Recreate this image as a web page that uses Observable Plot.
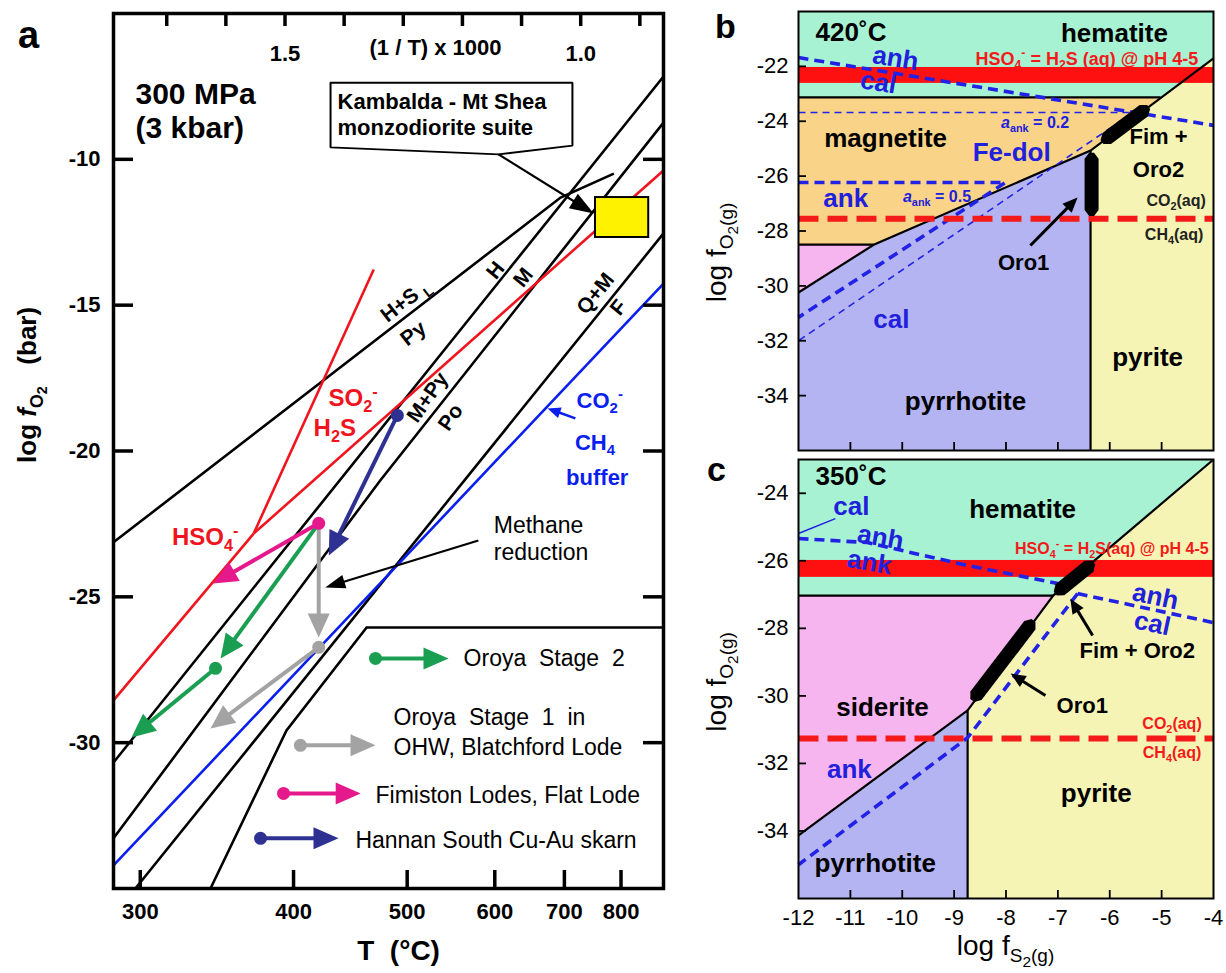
<!DOCTYPE html>
<html><head><meta charset="utf-8">
<script src="https://cdn.jsdelivr.net/npm/d3@7"></script>
<script src="https://cdn.jsdelivr.net/npm/@observablehq/plot@0.6"></script>
<style>
html,body{margin:0;padding:0;background:#fff}
#wrap{position:relative;width:1226px;height:973px;overflow:hidden;background:#fff}
#wrap svg{position:absolute;overflow:visible}
</style></head>
<body><div id="wrap"></div>
<script>
const FONT = '"Liberation Sans", Arial, Helvetica, sans-serif';

// ================= Panel a data (x = 1000/T [K^-1], y = log fO2) =================
const aTempTicks = [300, 400, 500, 600, 700, 800];
const aInvTicks = [0.9, 1.0, 1.1, 1.2, 1.3, 1.4, 1.5, 1.6, 1.7];
const aInvLabels = [1.5, 1.0];
const aYTicks = [-10, -15, -20, -25, -30];

const aHSPy = [[1.79,-23.13],[1.034,-11.31],[0.944,-10.49]];
const aHM = [[1.79,-30.68],[0.86,-7.16]];
const aMPyPo = [[1.79,-33.28],[1.339,-21.01],[0.86,-8.74]];
const aQFM = [[1.753,-35],[0.86,-12.54]];
const aLegendEdge = [[1.626,-35],[1.4975,-29.58],[1.362,-26.05],[0.86,-26.05]];
const aCO2CH4 = [[1.79,-34.21],[0.86,-14.26]];
const aHSO4steep = [[1.553,-22.83],[1.350,-13.78]];
const aSO2H2S = [[1.553,-22.83],[0.86,-10.38]];
const aHSO4low = [[1.79,-28.55],[1.553,-22.83]];
const aKambaldaField = [{x1:0.975, x2:0.885, y1:-12.68, y2:-11.31}];
const aKambaldaCallout = [[1.423,-7.37],[1.014,-7.37],[1.014,-9.53],[1.139,-9.83],[1.423,-9.59]];

const trajColors = {oroya2:"#1a9f52", oroya1:"#a3a3a3", fimiston:"#e5198c", hannan:"#2e3192"};
const trajSegments = [
  ["oroya2", 1.443,-22.48, 1.609,-27.11],
  ["oroya2", 1.6175,-27.45, 1.7596,-29.82],
  ["oroya1", 1.443,-22.48, 1.443,-26.39],
  ["oroya1", 1.443,-26.73, 1.626,-29.51],
  ["fimiston", 1.443,-22.48, 1.621,-24.54],
  ["hannan", 1.310,-18.78, 1.426,-23.58]
];
const trajPoints = [["oroya2",1.6175,-27.45],["oroya1",1.443,-26.73],["fimiston",1.443,-22.48],["hannan",1.310,-18.78]];
const legendKeys = ["oroya2","oroya1","fimiston","hannan"];
const legendText = {
  oroya2:["Oroya\u00a0 Stage\u00a0 2"],
  oroya1:["Oroya\u00a0 Stage\u00a0 1\u00a0 in","OHW, Blatchford Lode"],
  fimiston:["Fimiston Lodes, Flat Lode"],
  hannan:["Hannan South Cu-Au skarn"]
};
const legendLayout = {
  oroya2:{x0:1.347, x1:1.2235, y:-27.11, tx:1.198, ty:[-27.11]},
  oroya1:{x0:1.474, x1:1.347, y:-30.09, tx:1.3165, ty:[-29.13,-30.16]},
  fimiston:{x0:1.5025, x1:1.372, y:-31.74, tx:1.347, ty:[-31.81]},
  hannan:{x0:1.5414, x1:1.4095, y:-33.28, tx:1.381, ty:[-33.35]}
};

// ================= Panel b / c data (x = log fS2, y = log fO2) =================
const bcXTicks = [-12,-11,-10,-9,-8,-7,-6,-5,-4];
const bcInnerX = [-11,-10,-9,-8,-7,-6,-5];
const bYTicks = [-22,-24,-26,-28,-30,-32,-34];
const cYTicks = [-24,-26,-28,-30,-32,-34];

const colHem="#a6f2d2", colMag="#f9d488", colSid="#f6b5ee", colPo="#b4b4f2", colPy="#f6f4b4";
const RED="#f41a1a", BLUE="#2222e6";

// 420 C
const bHem = [[-12,-20],[-4,-20],[-4,-21.71],[-5.02,-23.13],[-12,-23.13]];
const bMag = [[-12,-23.13],[-5.02,-23.13],[-6.37,-25.07],[-10.55,-28.5],[-12,-28.5]];
const bSid = [[-12,-28.5],[-10.55,-28.5],[-12,-30.24]];
const bPo  = [[-12,-30.24],[-10.55,-28.5],[-6.37,-25.07],[-6.37,-36],[-12,-36]];
const bPy  = [[-6.37,-25.07],[-4,-21.71],[-4,-36],[-6.37,-36]];
const bBoundaries = [
  [[-12,-23.13],[-5.02,-23.13]],
  [[-4,-21.71],[-6.37,-25.07],[-10.55,-28.5],[-12,-30.24]],
  [[-12,-28.5],[-10.55,-28.5]],
  [[-6.37,-25.07],[-6.37,-36]]
];
const bSulfateBand = [{y1:-22.62, y2:-22.04}];
const bCH4 = -27.55;
const bAnhCal = [[-12,-21.68],[-4,-24.15]];
const bAnk05 = [[-12,-26.23],[-8.01,-26.23],[-12,-31.15]];
const bAnk02 = [[-12,-23.68],[-5.55,-23.68],[-12,-32.0]];
const bFimOro2 = [[-6.15,-24.76],[-5.25,-23.48]];
const bOro1 = [[-6.35,-25.15],[-6.35,-27.45]];

// 350 C
const cHem = [[-12,-23],[-4,-23],[-7.09,-27.03],[-12,-27.03]];
const cSid = [[-12,-27.03],[-7.09,-27.03],[-8.74,-30.43],[-12,-34.13]];
const cPo  = [[-12,-34.13],[-8.74,-30.43],[-8.74,-36],[-12,-36]];
const cPy  = [[-4,-23],[-4,-36],[-8.74,-36],[-8.74,-30.43],[-7.09,-27.03]];
const cBoundaries = [
  [[-12,-27.03],[-7.09,-27.03]],
  [[-4,-23],[-7.09,-27.03],[-8.74,-30.43]],
  [[-12,-34.13],[-8.74,-30.43],[-8.74,-36]]
];
const cSulfateBand = [{y1:-26.49, y2:-25.99}];
const cCH4 = -31.26;
const cAnhAnk = [[-12,-25.34],[-10.67,-25.46],[-8.74,-26.14],[-7.0,-26.67]];
const cAnhCal = [[-6.62,-26.97],[-4,-27.83]];
const cAnk = [[-6.62,-26.97],[-8.74,-31.24],[-12,-35.0]];
const cCalLeader = [[-12,-25.19],[-11.29,-24.75]];
const cFimOro2 = [[-7.05,-26.97],[-6.31,-26.05]];
const cOro1 = [[-8.65,-30.14],[-7.47,-27.77]];

// ================= helpers =================
const wrap = document.getElementById("wrap");
function place(svg, left, top){ svg.style.left = left+"px"; svg.style.top = top+"px"; wrap.appendChild(svg); }
const PX = d => d[0], PY = d => d[1];
function ln(pts, stroke, sw, extra={}) {
  return Plot.line(pts, {x:PX, y:PY, stroke, strokeWidth:sw, strokeLinecap:"butt", strokeLinejoin:"miter", strokeMiterlimit:4, ...extra});
}
function poly(pts, fill, extra={}) {
  return Plot.line([...pts, pts[0]], {x:PX, y:PY, fill, stroke:"none", strokeLinejoin:"miter", ...extra});
}
function arrow(sx, sy, x0,y0,x1,y1, color, sw, len, wid) {
  const X0=sx.apply(x0), Y0=sy.apply(y0), X1=sx.apply(x1), Y1=sy.apply(y1);
  const dx=X1-X0, dy=Y1-Y0, L=Math.hypot(dx,dy), ux=dx/L, uy=dy/L;
  const bx=X1-ux*len, by=Y1-uy*len;
  const inv=(X,Y)=>[sx.invert(X), sy.invert(Y)];
  const head=[inv(X1,Y1), inv(bx-uy*wid/2, by+ux*wid/2), inv(bx+uy*wid/2, by-ux*wid/2)];
  return [ln([[x0,y0], inv(bx+ux*3, by+uy*3)], color, sw), poly(head, color)];
}
function bar(sx, sy, seg, wid, taper, tipFrac) {
  const [[x0,y0],[x1,y1]] = seg;
  const X0=sx.apply(x0), Y0=sy.apply(y0), X1=sx.apply(x1), Y1=sy.apply(y1);
  const dx=X1-X0, dy=Y1-Y0, L=Math.hypot(dx,dy), ux=dx/L, uy=dy/L, nx=-uy, ny=ux;
  const h=wid/2, t=h*tipFrac;
  const P=[[X0+nx*t,Y0+ny*t],[X0+ux*taper+nx*h,Y0+uy*taper+ny*h],[X1-ux*taper+nx*h,Y1-uy*taper+ny*h],[X1+nx*t,Y1+ny*t],
           [X1-nx*t,Y1-ny*t],[X1-ux*taper-nx*h,Y1-uy*taper-ny*h],[X0+ux*taper-nx*h,Y0+uy*taper-ny*h],[X0-nx*t,Y0-ny*t]];
  return poly(P.map(([X,Y])=>[sx.invert(X), sy.invert(Y)]), "black");
}
function rich(svg, X, Y, parts, o) {
  const size=o.size;
  const t=d3.select(svg).append("text")
    .attr("transform", `translate(${X},${Y})` + (o.rotate ? ` rotate(${o.rotate})` : ""))
    .attr("text-anchor", o.anchor || "middle")
    .attr("font-family", FONT).attr("font-size", size)
    .attr("font-weight", o.weight || "bold").attr("fill", o.fill || "black");
  const base = o.center === false ? 0 : 0.35*size;
  let cur=0;
  for (const p of parts) {
    const [s,m] = Array.isArray(p) ? p : [p,""];
    let off=base, fs=size, st="normal";
    if (m==="sub") { off+=0.25*size; fs=0.68*size; }
    if (m==="sub2") { off+=0.42*size; fs=0.55*size; }
    if (m==="sup") { off-=0.40*size; fs=0.68*size; }
    if (m==="i") st="italic";
    t.append("tspan").attr("dy", off-cur).attr("font-size", fs).attr("font-style", st).text(s);
    cur=off;
  }
}
const txt = (data, o) => Plot.text(data, {x:"x", y:"y", text:"t", ...o});

// ================= Panel a =================
const A = {w:680, h:973, ml:113, mr:17, mt:13, mb:85, xd:[1.79,0.86], yd:[-35,-5]};
const sxA = Plot.scale({x:{type:"linear", domain:A.xd, range:[A.ml, A.w-A.mr]}});
const syA = Plot.scale({y:{type:"linear", domain:A.yd, range:[A.h-A.mb, A.mt]}});
const fwA = A.w-A.ml-A.mr, fhA = A.h-A.mt-A.mb;
const invT = t => 1000/(t+273.15);

const marksA = [
  ...[aHSPy, aHM, aMPyPo, aQFM, aLegendEdge].map(p => ln(p, "black", 2.6)),
  ln(aCO2CH4, "#0a1ef0", 2.6),
  ...[aHSO4steep, aSO2H2S, aHSO4low].map(p => ln(p, "#f0141e", 2.6)),
  poly(aKambaldaCallout, "white", {stroke:"black", strokeWidth:2}),
  Plot.rect(aKambaldaField, {x1:"x1", x2:"x2", y1:"y1", y2:"y2", fill:"#fff200", stroke:"black", strokeWidth:2}),
  ...arrow(sxA, syA, 1.139,-9.83, 0.978,-11.86, "black", 2.2, 24, 17),
  ...arrow(sxA, syA, 1.173,-23.07, 1.432,-24.68, "black", 2.2, 20, 14),
  ...arrow(sxA, syA, 1.009,-18.88, 1.056,-18.54, "#0a1ef0", 2.5, 13, 11),
  ...trajSegments.flatMap(([k,x0,y0,x1,y1]) => arrow(sxA, syA, x0,y0,x1,y1, trajColors[k], 4, 24, 22)),
  ...trajPoints.map(([k,x,y]) => Plot.dot([[x,y]], {x:PX, y:PY, r:6.5, fill:trajColors[k], stroke:"none"})),
  ...legendKeys.flatMap(k => {
    const L = legendLayout[k];
    return [
      ...arrow(sxA, syA, L.x0, L.y, L.x1, L.y, trajColors[k], 4, 25, 22),
      Plot.dot([[L.x0, L.y]], {x:PX, y:PY, r:6.5, fill:trajColors[k]}),
      txt(legendText[k].map((t,i)=>({t, x:L.tx, y:L.ty[i]})), {textAnchor:"start", fontSize:23, fontWeight:"normal"})
    ];
  }),
  // labels
  txt([{t:"300 MPa", x:1.7528, y:-7.78},{t:"(3 kbar)", x:1.7528, y:-8.94}], {textAnchor:"start", fontSize:30, fontWeight:"bold"}),
  txt([{t:"Kambalda - Mt Shea", x:1.4112, y:-8.02},{t:"monzodiorite suite", x:1.4112, y:-8.91}], {textAnchor:"start", fontSize:22, fontWeight:"bold"}),
  txt([{t:"Py", x:1.283, y:-15.97}], {rotate:-38, fontSize:21, fontWeight:"bold"}),
  txt([{t:"H", x:1.144, y:-13.81},{t:"M", x:1.097, y:-14.05},{t:"Q+M", x:0.975, y:-14.6},{t:"F", x:0.936, y:-15.08}], {rotate:-51, fontSize:21, fontWeight:"bold"}),
  txt([{t:"M+Py", x:1.259, y:-18.16},{t:"Po", x:1.22, y:-18.85}], {rotate:-55, fontSize:21, fontWeight:"bold"}),
  txt([{t:"buffer", x:0.972, y:-20.94}], {fontSize:22, fontWeight:"bold", fill:"#0a1ef0"}),
  txt([{t:"Methane", x:1.147, y:-22.55},{t:"reduction", x:1.147, y:-23.48}], {textAnchor:"start", fontSize:23, fontWeight:"normal"}),
  // top axis
  Plot.text(aInvLabels, {x:d=>d, text:d=>d.toFixed(1), frameAnchor:"top", lineAnchor:"middle", dy:40, fontSize:22, fontWeight:"bold"}),
  Plot.text([1.2455], {x:d=>d, text:()=>"(1 / T) x 1000", frameAnchor:"top", lineAnchor:"middle", dy:34, fontSize:22, fontWeight:"bold"}),
  Plot.text([1.308], {x:d=>d, text:()=>"T\u00a0 (°C)", frameAnchor:"bottom", lineAnchor:"middle", dy:63, fontSize:28, fontWeight:"bold"}),
  Plot.text(["a"], {frameAnchor:"top-left", textAnchor:"middle", lineAnchor:"middle", dx:-85, dy:22, text:d=>d, fontSize:38, fontWeight:"bold"}),
  // frame and inward ticks
  Plot.frame({stroke:"black", strokeWidth:3.5}),
  Plot.ruleY(aYTicks, {y:d=>d, insetRight:fwA-20, stroke:"black", strokeWidth:3.5}),
  Plot.ruleY(aYTicks, {y:d=>d, insetLeft:fwA-20, stroke:"black", strokeWidth:3.5}),
  Plot.ruleX(aInvTicks, {x:d=>d, insetBottom:fhA-13, stroke:"black", strokeWidth:3.5}),
  Plot.ruleX(aTempTicks.map(invT), {x:d=>d, insetTop:fhA-18, stroke:"black", strokeWidth:3.5})
];

const plotA = Plot.plot({
  width:A.w, height:A.h, marginLeft:A.ml, marginRight:A.mr, marginTop:A.mt, marginBottom:A.mb,
  style:{fontFamily:FONT, fontSize:"22px", fontWeight:"bold", color:"black", background:"transparent", overflow:"visible"},
  x:{type:"linear", domain:A.xd, ticks:aTempTicks.map(invT), tickFormat:d=>String(Math.round(1000/d-273.15)), tickSize:0, tickPadding:15, label:null},
  y:{type:"linear", domain:A.yd, ticks:aYTicks, tickFormat:d=>String(d), tickSize:0, tickPadding:13, label:null},
  marks: marksA
});
place(plotA, 0, 0);

// rich labels panel a
rich(plotA, 36, syA.apply(-17.75), ["log ", ["f","i"], ["O","sub"], ["2","sub2"], "\u00a0\u00a0 (bar)"], {size:26, rotate:-90, center:false});
rich(plotA, sxA.apply(1.296), syA.apply(-14.84), ["H+S", "\u00a0", ["L","sub"]], {size:21, rotate:-38});
rich(plotA, sxA.apply(1.384), syA.apply(-18.2), ["SO", ["2","sub"], ["-","sup"]], {size:24, fill:"#f0141e"});
rich(plotA, sxA.apply(1.415), syA.apply(-19.23), ["H", ["2","sub"], "S"], {size:24, fill:"#f0141e"});
rich(plotA, sxA.apply(1.634), syA.apply(-22.96), ["HSO", ["4","sub"], ["-","sup"]], {size:24, fill:"#f0141e"});
rich(plotA, sxA.apply(0.967), syA.apply(-18.27), ["CO", ["2","sub"], ["-","sup"]], {size:22, fill:"#0a1ef0"});
rich(plotA, sxA.apply(0.975), syA.apply(-19.71), ["CH", ["4","sub"]], {size:22, fill:"#0a1ef0"});

// ================= Panel b / c common =================
function bcPanel(cfg) {
  const sx = Plot.scale({x:{type:"linear", domain:cfg.xd, range:[cfg.ml, cfg.w-cfg.mr]}});
  const sy = Plot.scale({y:{type:"linear", domain:cfg.yd, range:[cfg.h-cfg.mb, cfg.mt]}});
  const fw = cfg.w-cfg.ml-cfg.mr, fh = cfg.h-cfg.mt-cfg.mb;
  const marks = [
    ...cfg.fields.map(([pts,col]) => poly(pts, col)),
    Plot.rect(cfg.band, {x1:()=>cfg.xd[0], x2:()=>cfg.xd[1], y1:"y1", y2:"y2", fill:"#ff1010"}),
    ...cfg.bounds.map(p => ln(p, "black", 2.2)),
    ...cfg.dashThick.map(p => ln(p, BLUE, 3.6, {strokeDasharray:"10,6"})),
    ...cfg.dashThin.map(p => ln(p, BLUE, 1.6, {strokeDasharray:"7,5"})),
    ...(cfg.extra || []).map(f => f(sx, sy)),
    ln([[cfg.xd[0], cfg.ch4],[cfg.xd[1], cfg.ch4]], "#f41a1a", 6, {strokeDasharray:"20,9"}),
    ...cfg.shapes.map(s => bar(sx, sy, s, 14, 6, 0.35)),
    ...cfg.arrows.flatMap(a => arrow(sx, sy, a[0],a[1],a[2],a[3], "black", 3, 15, 13)),
    ...cfg.texts.map(g => txt(g.d, g.o)),
    Plot.text([cfg.letter], {frameAnchor:"top-left", textAnchor:"middle", lineAnchor:"middle", dx:cfg.letterDx, dy:cfg.letterDy, text:d=>d, fontSize:34, fontWeight:"bold"}),
    Plot.frame({stroke:"black", strokeWidth:2}),
    Plot.ruleX(bcInnerX, {x:d=>d, insetTop:fh-8, stroke:"black", strokeWidth:1.8}),
    Plot.ruleY(cfg.yTicks, {y:d=>d, insetRight:fw-8, stroke:"black", strokeWidth:1.8})
  ];
  const svg = Plot.plot({
    width:cfg.w, height:cfg.h, marginLeft:cfg.ml, marginRight:cfg.mr, marginTop:cfg.mt, marginBottom:cfg.mb,
    style:{fontFamily:FONT, fontSize:"22px", fontWeight:"normal", color:"black", background:"transparent", overflow:"visible"},
    x: cfg.showX ? {type:"linear", domain:cfg.xd, ticks:bcXTicks, tickFormat:d=>String(d), tickSize:0, tickPadding:11, label:null}
                 : {type:"linear", domain:cfg.xd, axis:null},
    y:{type:"linear", domain:cfg.yd, ticks:cfg.yTicks, tickFormat:d=>String(d), tickSize:0, tickPadding:10, label:null},
    marks
  });
  return {svg, sx, sy};
}
const mineral = {fontSize:26, fontWeight:"bold"};
const blueLab = {fontSize:26, fontWeight:"bold", fill:"#2020dd"};

// ---- panel b ----
const B = bcPanel({
  w:526, h:455, ml:98, mr:13, mt:11, mb:5, xd:[-12,-4], yd:[-36,-20], yTicks:bYTicks, showX:false,
  fields:[[bHem,colHem],[bMag,colMag],[bSid,colSid],[bPo,colPo],[bPy,colPy]],
  band:bSulfateBand, ch4:bCH4, bounds:bBoundaries,
  dashThick:[bAnhCal, bAnk05], dashThin:[bAnk02],
  shapes:[bFimOro2, bOro1],
  arrows:[[-7.53,-28.53,-6.62,-26.78]],
  letter:"b", letterDx:-73, letterDy:16,
  texts:[
    {d:[{t:"420˚C", x:-11.67, y:-20.77}], o:{textAnchor:"start", fontSize:26, fontWeight:"bold"}},
    {d:[{t:"hematite", x:-5.91, y:-20.8},{t:"magnetite", x:-10.32, y:-24.63},{t:"pyrite", x:-5.27, y:-32.61},{t:"pyrrhotite", x:-8.78, y:-34.21}], o:mineral},
    {d:[{t:"Fim +", x:-5.06, y:-24.59},{t:"Oro2", x:-5.06, y:-25.79},{t:"Oro1", x:-7.66, y:-29.15}], o:{fontSize:22, fontWeight:"bold"}},
    {d:[{t:"anh", x:-10.13, y:-21.71},{t:"cal", x:-10.46, y:-22.59}], o:{...blueLab, rotate:9}},
    {d:[{t:"Fe-dol", x:-7.89, y:-25.14},{t:"ank", x:-11.09, y:-26.81},{t:"cal", x:-10.21, y:-31.22}], o:blueLab}
  ]
});
place(B.svg, 700, 0);
rich(B.svg, B.sx.apply(-6.43), B.sy.apply(-21.72), ["HSO", ["4","sub"], ["-","sup"], " = H", ["2","sub"], "S (aq) @ pH 4-5"], {size:18, fill:"#f41a1a"});
rich(B.svg, B.sx.apply(-7.43), B.sy.apply(-24.05), [["a","i"], ["ank","sub"], " = 0.2"], {size:16, fill:"#2020dd"});
rich(B.svg, B.sx.apply(-9.32), B.sy.apply(-26.74), [["a","i"], ["ank","sub"], " = 0.5"], {size:16, fill:"#2020dd"});
rich(B.svg, B.sx.apply(-4.71), B.sy.apply(-26.92), ["CO", ["2","sub"], "(aq)"], {size:16, fill:"#222"});
rich(B.svg, B.sx.apply(-4.75), B.sy.apply(-28.13), ["CH", ["4","sub"], "(aq)"], {size:16, fill:"#222"});
rich(B.svg, 26, B.sy.apply(-28.8), ["log f", ["O","sub"], ["2","sub2"], ["(g)","sub"]], {size:28, rotate:-90, center:false, weight:"normal"});

// ---- panel c ----
const Cp = bcPanel({
  w:526, h:518, ml:98, mr:13, mt:4, mb:75, xd:[-12,-4], yd:[-36,-23], yTicks:cYTicks, showX:true,
  fields:[[cHem,colHem],[cSid,colSid],[cPo,colPo],[cPy,colPy]],
  band:cSulfateBand, ch4:cCH4, bounds:cBoundaries,
  dashThick:[cAnhAnk, cAnhCal, cAnk], dashThin:[],
  extra:[() => ln(cCalLeader, BLUE, 1.5)],
  shapes:[cFimOro2, cOro1],
  arrows:[[-6.33,-28.21,-6.76,-27.12],[-7.24,-29.99,-7.91,-29.34]],
  letter:"c", letterDx:-82, letterDy:11,
  texts:[
    {d:[{t:"350˚C", x:-11.67, y:-23.5}], o:{textAnchor:"start", fontSize:26, fontWeight:"bold"}},
    {d:[{t:"hematite", x:-7.68, y:-24.48},{t:"siderite", x:-10.38, y:-30.34},{t:"pyrite", x:-6.26, y:-32.89},{t:"pyrrhotite", x:-10.52, y:-34.96}], o:mineral},
    {d:[{t:"Fim + Oro2", x:-5.47, y:-28.66},{t:"Oro1", x:-6.53, y:-30.31}], o:{fontSize:22, fontWeight:"bold"}},
    {d:[{t:"cal", x:-10.98, y:-24.39},{t:"ank", x:-11.02, y:-32.18}], o:blueLab},
    {d:[{t:"anh", x:-10.42, y:-25.31},{t:"ank", x:-10.63, y:-26.05}], o:{...blueLab, rotate:10}},
    {d:[{t:"anh", x:-5.12, y:-27.06},{t:"cal", x:-5.18, y:-27.86}], o:{...blueLab, rotate:12}}
  ]
});
place(Cp.svg, 700, 455);
rich(Cp.svg, Cp.sx.apply(-5.95), Cp.sy.apply(-25.64), ["HSO", ["4","sub"], ["-","sup"], " = H", ["2","sub"], "S(aq) @ pH 4-5"], {size:16, fill:"#f41a1a"});
rich(Cp.svg, Cp.sx.apply(-4.79), Cp.sy.apply(-30.82), ["CO", ["2","sub"], "(aq)"], {size:16, fill:"#f41a1a"});
rich(Cp.svg, Cp.sx.apply(-4.79), Cp.sy.apply(-31.68), ["CH", ["4","sub"], "(aq)"], {size:16, fill:"#f41a1a"});
rich(Cp.svg, 26, Cp.sy.apply(-29.6), ["log f", ["O","sub"], ["2","sub2"], ["(g)","sub"]], {size:28, rotate:-90, center:false, weight:"normal"});
rich(Cp.svg, Cp.sx.apply(-8.0), 500, ["log f", ["S","sub"], ["2","sub2"], ["(g)","sub"]], {size:28, center:false, weight:"normal"});
</script></body></html>
